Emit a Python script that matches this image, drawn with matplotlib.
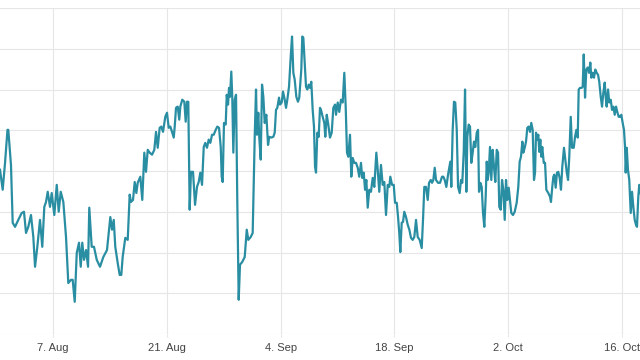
import numpy as np
import pandas as pd
import matplotlib
matplotlib.use("Agg")
import matplotlib.pyplot as plt

# time in days after 7 Aug (grid step = 10)
days = [
    -6.52, -6.19, -5.90, -5.60, -5.50, -5.17, -4.96, -4.67, -4.27, -3.85,
    -3.57, -3.32, -3.04, -2.71, -2.42, -2.21, -1.93, -1.60, -1.32, -1.07,
    -0.86, -0.65, -0.37, -0.16, 0.16, 0.46, 0.70, 0.95, 1.27, 1.60,
    1.88, 2.21, 2.42, 2.67, 2.92, 3.20, 3.41, 3.60, 3.81, 4.06,
    4.31, 4.46, 4.76, 5.04, 5.38, 5.78, 6.19, 6.64,
    7.05, 7.26, 7.47, 7.66, 7.96, 8.20, 8.40, 8.57, 8.89, 9.19,
    9.43, 9.59, 9.84, 10.05, 10.25, 10.42, 10.74, 10.98, 11.23, 11.44,
    11.65, 11.89, 12.18, 12.46, 12.67, 12.88, 13.12, 13.32, 13.53, 13.81,
    14.02, 14.23, 14.43, 14.64, 14.85, 14.97, 15.13, 15.34, 15.53, 15.66,
    15.90, 16.15, 16.32, 16.48, 16.64, 16.81, 16.97, 17.22, 17.47, 17.71,
    17.92, 18.12, 18.33, 18.54, 18.73, 18.94, 19.15, 19.35, 19.56, 19.77,
    20.01, 20.21, 20.42, 20.63, 20.75, 20.87, 21.03, 21.24, 21.37, 21.53,
    21.65, 21.77, 21.93, 22.05, 22.18, 22.35, 22.51, 22.67, 22.84, 23.00,
    23.28, 23.58, 23.83, 24.02, 24.32, 24.56, 24.81, 24.97, 25.09, 25.25,
    25.37, 25.55, 25.71, 25.87, 26.04, 26.24, 26.45, 26.60, 26.85, 27.10,
    27.27, 27.43, 27.59, 27.80, 27.92, 28.13, 28.29, 28.50, 28.66, 28.82,
    29.03, 29.24, 29.40, 29.56, 29.73, 29.93, 30.13, 30.29, 30.54, 30.66,
    30.79, 30.96, 31.12, 31.28, 31.45, 31.61, 31.77, 31.94, 32.10, 32.23,
    32.35, 32.51, 32.68, 32.84,
    32.96, 33.17, 33.37, 33.49, 33.67, 33.86, 34.07, 34.28, 34.48, 34.69,
    34.81, 35.02, 35.21, 35.42, 35.63, 35.83, 36.00, 36.16, 36.32, 36.53,
    36.69, 36.86, 37.06, 37.27, 37.48, 37.67, 37.88, 38.04, 38.22, 38.38,
    38.54, 38.71, 38.90, 39.11, 39.32, 39.52, 39.77, 39.94, 40.13, 40.34,
    40.55, 40.75, 40.96, 41.17, 41.36, 41.49, 41.70, 41.91, 42.07, 42.28,
    42.44, 42.59, 42.72, 42.89, 43.05, 43.21, 43.42, 43.63, 43.83, 44.03,
    44.24, 44.44, 44.65, 44.86, 45.10, 45.35, 45.51, 45.67, 45.88, 46.09,
    46.25, 46.46, 46.62, 46.78, 46.95, 47.11, 47.36, 47.60, 47.85, 48.01,
    48.18, 48.38, 48.59, 48.75, 48.87, 48.99, 49.16, 49.32, 49.48, 49.66,
    49.82, 50.02, 50.18, 50.34, 50.52, 50.68, 50.84, 50.96, 51.13, 51.29,
    51.45, 51.62, 51.78, 51.94, 52.12, 52.28, 52.40, 52.56, 52.73, 52.89,
    53.05, 53.22, 53.35, 53.47, 53.59, 53.75, 53.91, 54.08, 54.24, 54.40,
    54.58, 54.74, 54.89, 55.07, 55.23, 55.39, 55.56, 55.72, 55.88, 56.05,
    56.21, 56.37, 56.58, 56.79, 57.03, 57.23, 57.40, 57.56, 57.73, 57.85,
    58.02, 58.18, 58.34, 58.51, 58.67, 58.83, 59.00, 59.16,
    59.29, 59.41, 59.57, 59.69, 59.81, 59.94, 60.06, 60.18, 60.36, 60.52,
    60.68, 60.92, 61.13, 61.25, 61.41, 61.54, 61.66, 61.83, 61.99, 62.15,
    62.32, 62.48, 62.64, 62.85, 63.01, 63.18, 63.35, 63.50, 63.68, 63.84,
    64.05, 64.21, 64.37, 64.54, 64.66, 64.82, 65.03, 65.15, 65.28, 65.44,
    65.60, 65.77, 65.93, 66.09, 66.21, 66.38, 66.54, 66.70, 66.87, 67.04,
    67.19, 67.37, 67.53, 67.69, 67.86, 67.98, 68.10, 68.27, 68.42, 68.60,
    68.76, 68.92, 69.09, 69.25, 69.41, 69.58, 69.74, 69.90, 70.07, 70.23,
    70.36, 70.44, 70.57, 70.72, 70.88, 71.06, 71.22, 71.38, 71.55, 71.71,
    71.83, 71.99, 72.11, 72.20,
]
values = [
    40.3, 35.4, 42.0, 50.1, 50.1, 41.5, 27.3, 26.3, 28.0, 29.7,
    30.0, 24.8, 26.3, 29.2, 23.8, 16.5, 21.4, 28.0, 21.4, 31.2,
    32.4, 34.9, 31.2, 34.6, 29.2, 36.6, 30.0, 34.9, 32.4, 23.8,
    12.5, 13.3, 13.3, 7.9, 19.9, 22.4, 16.5, 22.4, 18.2, 20.6,
    16.5, 31.0, 21.4, 21.4, 18.2, 16.5, 18.9, 20.6,
    28.7, 25.6, 28.0, 21.4, 17.4, 14.5, 14.5, 18.9, 23.6, 23.1,
    34.2, 32.4, 32.9, 37.3, 34.6, 37.1, 38.6, 32.9, 44.5, 39.8,
    45.2, 44.5, 44.0, 45.2, 49.6, 45.7, 50.6, 50.9, 49.6, 53.3,
    54.3, 50.6, 50.9, 49.6, 48.2, 50.9, 55.5, 55.8, 52.6, 55.8,
    57.5, 57.0, 52.1, 57.0, 57.0, 30.5, 39.8, 39.8, 31.7, 36.1,
    37.3, 39.6, 36.6, 45.9, 46.9, 45.7, 47.7, 46.9, 48.9, 48.9,
    50.1, 50.9, 50.6, 45.9, 38.6, 37.3, 51.8, 51.4, 58.7, 56.3,
    60.4, 58.2, 64.4, 58.0, 44.5, 57.5, 58.7, 32.2, 8.4, 17.0,
    17.7, 18.9, 25.6, 23.1, 23.8, 24.8, 48.4, 60.0, 48.9, 54.3,
    48.2, 42.8, 61.2, 58.2, 51.8, 53.8, 46.4, 48.4, 48.2, 48.4,
    49.4, 55.0, 55.5, 58.0, 56.3, 56.8, 59.5, 57.5, 55.5, 57.5,
    60.7, 68.1, 73.0, 64.1, 62.4, 58.2, 57.0, 58.0, 64.9, 73.0,
    72.7, 66.6, 60.7, 60.0, 61.2, 60.4, 61.9, 55.0, 50.9, 41.0,
    39.6, 49.4, 48.4, 55.5,
    55.0, 53.3, 51.8, 48.4, 53.8, 51.4, 48.2, 49.4, 55.5, 56.3,
    53.8, 56.8, 54.5, 57.5, 56.8, 64.1, 55.8, 44.5, 43.5, 48.9,
    38.6, 43.2, 42.0, 42.0, 40.8, 38.6, 42.0, 38.3, 39.6, 35.4,
    37.8, 31.0, 35.4, 34.9, 38.3, 36.1, 44.5, 40.3, 34.9, 41.5,
    36.6, 37.3, 29.2, 36.6, 36.1, 38.6, 36.6, 36.6, 32.2, 32.2,
    28.7, 24.8, 20.1, 27.3, 27.5, 30.0, 28.7, 26.8, 25.6, 23.6,
    23.1, 23.8, 28.0, 23.8, 23.1, 21.1, 28.0, 36.1, 36.1, 32.9,
    37.1, 37.8, 37.1, 37.8, 40.8, 37.8, 37.1, 37.1, 38.6, 38.6,
    37.8, 36.1, 39.1, 41.0, 42.3, 36.1, 50.1, 57.0, 56.8, 50.1,
    36.1, 34.6, 37.8, 37.1, 44.7, 60.0, 34.9, 48.4, 51.4, 50.9,
    42.0, 44.5, 47.2, 45.9, 49.4, 50.1, 34.9, 37.1, 36.1, 29.7,
    26.3, 33.7, 42.3, 37.8, 39.6, 45.9, 37.8, 45.2, 41.0, 37.3,
    45.2, 44.5, 31.2, 30.5, 37.8, 35.4, 28.0, 37.8, 32.9, 35.9,
    32.9, 29.7, 29.2, 30.0, 32.2, 36.1, 42.3, 43.5, 47.2, 44.5,
    45.7, 47.2, 50.6, 50.9, 49.6, 51.8, 50.1, 37.8,
    39.6, 49.4, 47.7, 48.9, 44.7, 47.7, 43.5, 45.9, 42.0, 42.0,
    35.4, 34.6, 33.7, 32.4, 36.1, 38.6, 39.1, 35.9, 39.6, 39.8,
    38.3, 35.4, 41.0, 45.7, 42.8, 39.8, 37.8, 43.5, 53.3, 45.7,
    45.7, 48.4, 50.1, 48.2, 60.0, 60.4, 60.4, 60.7, 68.6, 58.0,
    64.9, 65.4, 64.1, 66.6, 62.9, 64.1, 62.9, 64.9, 64.1, 63.6,
    61.9, 58.2, 55.8, 59.2, 61.7, 58.2, 55.8, 60.0, 56.8, 57.5,
    55.0, 55.8, 53.8, 55.8, 54.5, 53.3, 53.3, 53.8, 51.8, 50.1,
    45.9, 39.6, 45.7, 40.3, 37.8, 29.7, 34.9, 31.2, 28.0, 26.8,
    26.3, 33.7, 36.6, 34.6,
]

tick_days = [0, 14, 28, 42, 56, 70]
tick_labels = ["7. Aug", "21. Aug", "4. Sep", "18. Sep", "2. Oct", "16. Oct"]

base = pd.Timestamp("2023-08-07")
times = base + pd.to_timedelta(days, unit="D")
ticks = base + pd.to_timedelta(tick_days, unit="D")

fig = plt.figure(figsize=(6.4, 3.6), dpi=100)
ax = fig.add_axes([0, 26 / 360, 1, 326 / 360])

ax.plot(times, values, color="#2a8ea3", linewidth=1.6, solid_joinstyle="round", zorder=3)

ax.set_xlim(base + pd.Timedelta(days=-6.52), base + pd.Timedelta(days=72.2))
ax.set_ylim(0, 80)
ax.set_yticks(np.arange(0, 81, 10))
ax.set_xticks(ticks)
ax.set_xticklabels(tick_labels, fontsize=8, color="#444444", family="Liberation Sans")
ax.tick_params(axis="y", left=False, labelleft=False)
ax.tick_params(axis="x", length=2.5, width=0.8, color="#e3e6ee", pad=4)
ax.grid(True, color="#e6e6e6", linewidth=0.8)
for s in ax.spines.values():
    s.set_visible(False)
ax.set_axisbelow(True)

fig.savefig("out.png", dpi=100)
